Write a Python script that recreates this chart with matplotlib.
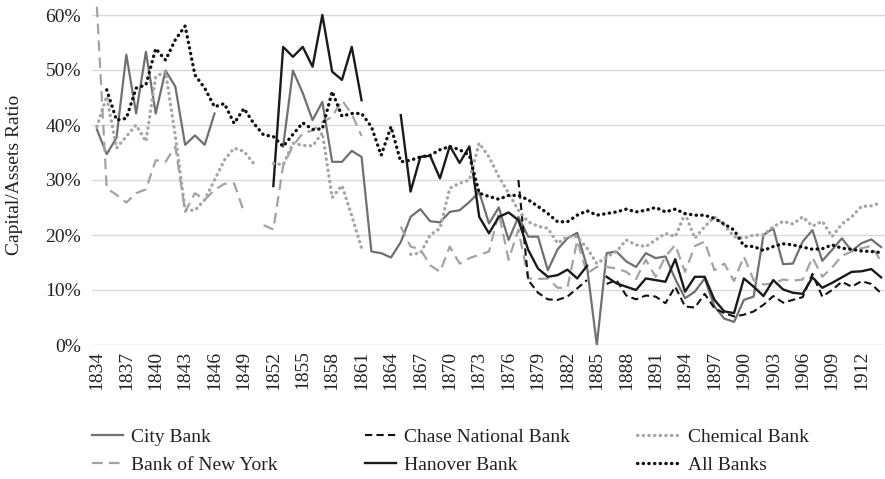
import numpy as np
import matplotlib
matplotlib.use("Agg")
import matplotlib.pyplot as plt
from matplotlib.ticker import FuncFormatter

plt.rcParams['font.family'] = ['Liberation Serif', 'DejaVu Serif']

N = None
years = list(range(1834, 1915))

city_bank = [39.2, 34.7, 37.7, 52.8, 42.1, 53.3, 42.1, 49.9, 47.0, 36.4, 38.1, 36.4, 42.1,
             N, N, N, N, N, N,
             36.1, 49.9, 45.8, 40.9, 44.2, 33.3, 33.3, 35.3, 34.2, 17.0, 16.7, 15.9, 18.7,
             23.3, 24.7, 22.5, 22.3, 24.2, 24.5, 26.0, 27.8, 22.1, 25.0, 19.1, 23.3, 19.7,
             19.7, 13.6, 17.4, 19.4, 20.4, 14.2, 0.0, 16.7, 17.0, 15.2, 14.2, 16.7, 15.8,
             16.1, 12.0, 8.5, 9.7, 12.1, 7.0, 4.8, 4.2, 8.2, 8.8, 20.0, 21.2, 14.7, 14.8,
             18.8, 20.9, 15.3, 17.3, 19.4, 17.1, 18.5, 19.2, 17.8]

chase_national = [N] * 43 + [30.0, 11.8, 9.5, 8.3, 8.2, 8.8, 10.3, 11.8, N, 11.1, 11.8, 9.0,
                             8.3, 9.0, 8.8, 7.6, 10.6, 7.0, 6.8, 9.3, 6.7, 5.8, 5.2, 5.5, 6.1,
                             7.3, 8.9, 7.7, 8.2, 8.7, 12.9, 8.8, 10.0, 11.5, 10.6, 11.6, 11.1, 9.4]

chemical_bank = [39.7, 45.2, 35.8, 37.9, 40.0, 37.0, 48.8, 49.7, 38.0, 24.5, 24.5, 26.4, 30.0,
                 33.6, 35.8, 35.2, 33.0, N, 33.0, 32.8, 36.7, 36.3, 36.2, 38.6, 26.8, 29.0,
                 23.5, 17.6, N, N, N, N, 16.5, 16.7, 20.0, 21.2, 28.5, 29.4, 30.0, 36.7, 34.2,
                 30.6, 27.6, 24.5, 22.4, 21.6, 21.2, 18.5, 19.7, 19.7, 17.6, 14.8, 16.0, 17.0,
                 19.1, 18.2, 17.9, 19.1, 20.3, 19.7, 23.9, 19.4, 21.5, 23.3, 21.8, 19.7, 19.4,
                 20.0, 20.0, 21.5, 22.5, 22.0, 23.3, 21.6, 22.5, 19.7, 22.0, 23.3, 25.2, 25.3, 25.9]

bank_of_new_york = [61.5, 28.5, 27.3, 25.9, 27.6, 28.3, 33.6, 33.3, 36.1, 24.2, 27.6, 26.4, 28.2,
                    29.3, 29.4, 24.2, N, 21.8, 21.0, 32.6, 36.2, 38.5, 39.0, 40.5, 41.5, 44.5,
                    42.0, 38.0, N, N, N, 21.5, 17.9, 17.4, 14.5, 13.3, 17.9, 14.8, 15.8, 16.4,
                    17.0, 24.0, 15.5, 21.0, 12.1, 12.0, 12.1, 10.4, 10.4, 19.0, 13.0, 14.2, 14.2,
                    13.9, 13.3, 12.0, 15.5, 12.4, 16.1, 18.2, 13.3, 18.0, 18.8, 13.6, 14.8, 11.6,
                    16.1, 11.8, 11.0, 11.2, 11.9, 11.7, 11.9, 15.9, 12.4, 14.1, 16.2, 17.0, 17.6,
                    18.0, 15.2]

hanover_bank = [N] * 18 + [28.9, 54.2, 52.4, 54.2, 50.6, 60.0, 49.7, 48.2, 54.2, 44.5, N, N, N,
                           41.8, 27.9, 34.2, 34.4, 30.3, 36.2, 33.1, 36.1, 23.3, 20.3, 23.3, 24.1,
                           22.7, 17.3, 13.9, 12.4, 12.7, 13.7, 12.1, 14.4, N, 12.4, 11.2, 10.6,
                           10.0, 12.1, 11.8, 11.5, 15.6, 9.7, 12.4, 12.4, 8.2, 6.1, 5.8, 12.1,
                           10.6, 8.9, 11.8, 10.1, 9.5, 9.3, 12.3, 10.4, 11.3, 12.3, 13.3, 13.4,
                           13.8, 12.3]

all_banks = [N, 46.4, 40.9, 41.2, 46.7, 47.3, 53.9, 51.8, 55.5, 58.0, 49.1, 46.7, 43.3, 43.9,
             40.3, 43.0, 40.3, 38.2, 37.9, 36.1, 38.3, 40.4, 39.2, 39.3, 46.1, 41.6, 42.1, 42.1,
             39.7, 34.5, 39.7, 33.3, 33.6, 34.2, 34.5, 35.5, 36.1, 35.5, 34.5, 27.6, 27.0, 26.5,
             27.2, 27.2, 26.4, 25.2, 23.9, 22.4, 22.4, 23.6, 24.4, 23.6, 23.9, 24.2, 24.7, 24.2,
             24.5, 25.0, 24.2, 24.7, 23.9, 23.6, 23.6, 23.0, 22.0, 20.9, 18.0, 17.9, 17.2, 17.9,
             18.4, 18.2, 17.8, 17.4, 17.5, 18.2, 17.6, 17.4, 17.1, 17.0, 16.8]

tick_years = list(range(1834, 1913, 3))
y_ticks = [0, 10, 20, 30, 40, 50, 60]


def arr(v):
    return np.array([np.nan if x is None else x / 100.0 for x in v])


W, H = 885, 479
fig = plt.figure(figsize=(W / 100, H / 100), dpi=100)
ax = fig.add_axes([92 / W, (H - 345) / H, 794 / W, 341 / H])

FS = 14
h_city, = ax.plot(years, arr(city_bank), color='#707070', lw=1.6, label='City Bank')
h_bny, = ax.plot(years, arr(bank_of_new_york), color='#a3a3a3', lw=1.6, dashes=(4.8, 2.8), label='Bank of New York')
h_chase, = ax.plot(years, arr(chase_national), color='#111111', lw=1.5, dashes=(3.5, 2.0), label='Chase National Bank')
h_han, = ax.plot(years, arr(hanover_bank), color='#1a1a1a', lw=1.7, label='Hanover Bank')
h_chem, = ax.plot(years, arr(chemical_bank), color='#a6a6a6', lw=2.4, dashes=(0.1, 1.6), dash_capstyle='round', label='Chemical Bank')
h_all, = ax.plot(years, arr(all_banks), color='#111111', lw=2.4, dashes=(0.1, 1.6), dash_capstyle='round', label='All Banks')

ax.set_xlim(1833.5, 1914.5)
ax.set_ylim(0, 0.62)
ax.set_yticks([t / 100 for t in y_ticks])
ax.yaxis.set_major_formatter(FuncFormatter(lambda v, p: f"{v*100:.0f}%"))
ax.set_xticks(tick_years)
ax.set_xticklabels([str(y) for y in tick_years], rotation=90)
ax.grid(axis='y', color='#d9d9d9', lw=1.0)
ax.set_axisbelow(True)
for s in ax.spines.values():
    s.set_visible(False)
ax.tick_params(axis='both', length=0, labelsize=FS, colors='#222222')
ax.tick_params(axis='x', pad=4)
ax.tick_params(axis='y', pad=8)
ax.set_ylabel('Capital/Assets Ratio', fontsize=FS, color='#222222', labelpad=16)

columns = [
    ([h_city, h_bny], ['City Bank', 'Bank of New York'], 92, 1.6),
    ([h_chase, h_han], ['Chase National Bank', 'Hanover Bank'], 365, 1.6),
    ([h_chem, h_all], ['Chemical Bank', 'All Banks'], 637, 2.2),
]
for hs, ls, x0, hl in columns:
    leg = fig.legend(hs, ls, loc='upper left', bbox_to_anchor=(x0 / W, 1 - 428 / H),
                     frameon=False, fontsize=FS, handlelength=hl, handletextpad=0.4,
                     labelspacing=0.55, borderpad=0, borderaxespad=0)
    for t in leg.get_texts():
        t.set_color('#222222')

fig.savefig('out.png', dpi=100)
